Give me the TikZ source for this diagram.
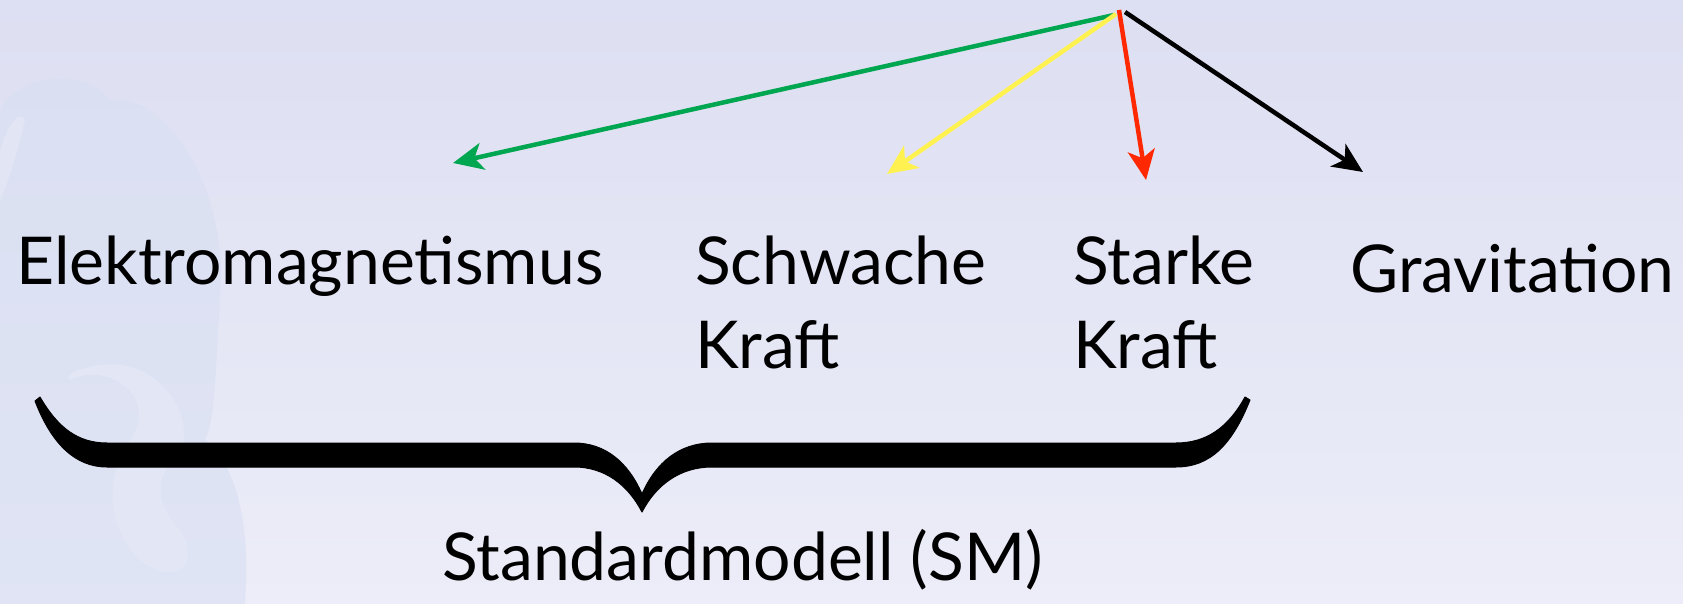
\documentclass[tikz,border=0pt]{standalone}
\usepackage{fontspec}
\setmainfont{Lato}
\usetikzlibrary{arrows.meta}
\definecolor{bgtop}{RGB}{221,223,242}
\definecolor{bgbot}{RGB}{236,237,248}
\definecolor{wm}{RGB}{216,223,242}
\definecolor{wmlight}{RGB}{232,234,247}
\definecolor{emgreen}{RGB}{0,166,80}
\definecolor{wkyellow}{RGB}{255,242,80}
\definecolor{stred}{RGB}{255,40,0}
\tikzset{
  lbl/.style={anchor=base west, inner sep=0pt, font=\fontsize{66}{84}\selectfont},
  force/.style={line width=4.5pt, -{Stealth[length=30pt,width=27pt,inset=8pt]}},
}
\begin{document}
\begin{tikzpicture}[x=1pt,y=-1pt]
\useasboundingbox (0,0) rectangle (1683,604);
\shade[top color=bgtop, bottom color=bgbot] (0,0) rectangle (1683,604);
% faint watermark
\fill[wm, opacity=0.6] (0,110) .. controls (20,70) and (90,70) .. (110,100)
  .. controls (160,90) and (230,180) .. (220,300)
  .. controls (215,380) and (215,420) .. (205,440)
  .. controls (240,470) and (250,530) .. (245,604)
  -- (0,604) -- cycle;
\fill[wmlight, opacity=0.5] (70,380) .. controls (110,360) and (160,400) .. (130,440)
  .. controls (110,470) and (100,520) .. (140,560)
  .. controls (180,590) and (200,560) .. (180,530)
  .. controls (150,500) and (160,470) .. (175,460)
  .. controls (200,430) and (170,370) .. (120,365)
  .. controls (90,362) and (60,375) .. (70,380) -- cycle;
\fill[wmlight, opacity=0.5] (0,150) .. controls (10,120) and (20,110) .. (25,120)
  .. controls (20,140) and (10,180) .. (0,200) -- cycle;

% labels
\node[lbl] (em) at (16,284) {Elektromagnetismus};
\node[lbl] (sw1) at (695,284) {Schwache};
\node[lbl] (sw2) at (695,368) {Kraft};
\node[lbl] (st1) at (1073,284) {Starke};
\node[lbl] (st2) at (1073,368) {Kraft};
\node[lbl] (gr) at (1350,292) {Gravitation};
\node[lbl] (sm) at (442,580) {Standardmodell (SM)};

% arrows
\coordinate (g0) at (1114,15);
\coordinate (y0) at (1116,14);
\coordinate (r0) at (1119,10);
\coordinate (b0) at (1125,12);
\coordinate (g1) at (453,163);
\coordinate (y1) at (887,174);
\coordinate (r1) at (1146,180);
\coordinate (b1) at (1363,172);
\draw[force, emgreen] (g0) -- (g1);
\draw[force, wkyellow] (y0) -- (y1);
\draw[force, stred] (r0) -- (r1);
\draw[force, black] (b0) -- (b1);

% brace
\fill[black, draw=black, line width=1pt, line join=round]
  (40,397) .. controls (58,428) and (78,443) .. (107,443)
  -- (574,443) .. controls (605,443) and (628,462) .. (642,494)
  .. controls (656,462) and (680,443) .. (712,443)
  -- (1176,443) .. controls (1206,443) and (1228,428) .. (1245,397)
  -- (1250,400)
  .. controls (1232,445) and (1210,467) .. (1176,467)
  -- (712,467) .. controls (680,467) and (656,485) .. (642,512)
  .. controls (628,485) and (605,467) .. (574,467)
  -- (107,467) .. controls (76,467) and (52,445) .. (35,401) -- cycle;
\end{tikzpicture}
\end{document}
